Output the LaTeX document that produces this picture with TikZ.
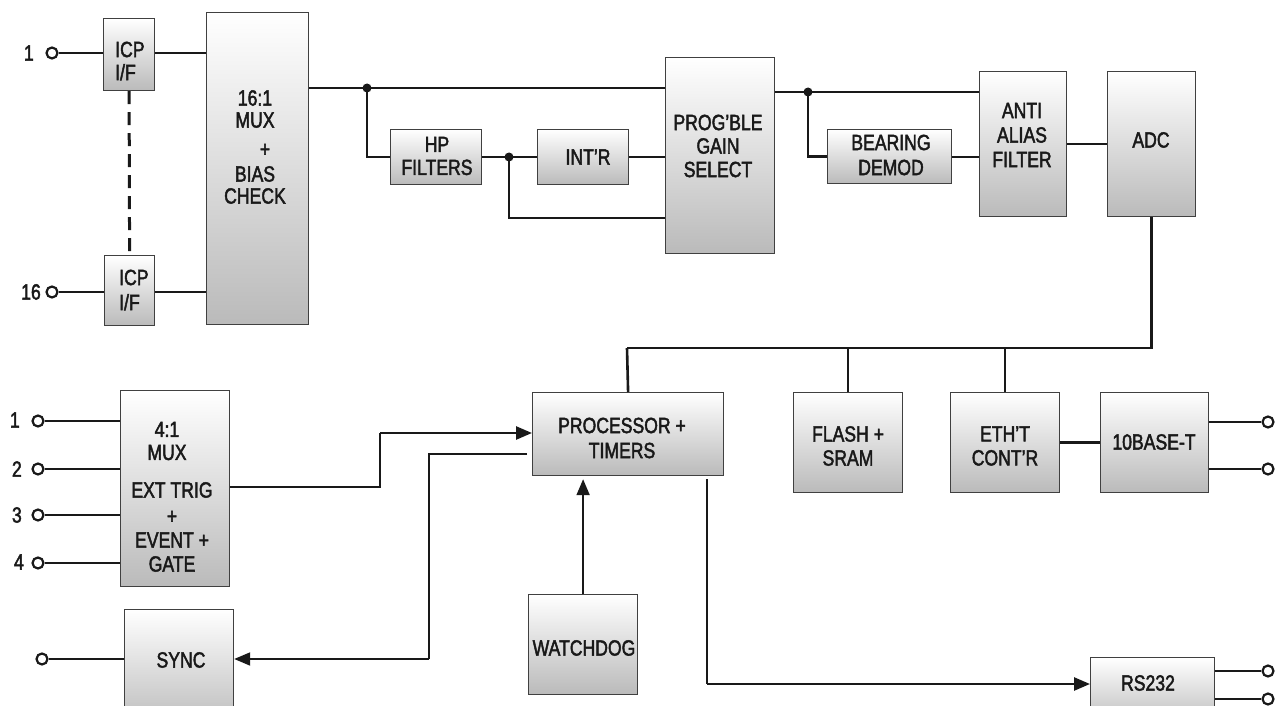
\documentclass[tikz,border=0pt]{standalone}
\usepackage{fontspec}
\setmainfont{Liberation Sans}[FakeStretch=0.80,FakeBold=2]
\usetikzlibrary{arrows.meta}
\begin{document}
\begin{tikzpicture}[x=1pt,y=-1pt,
  box/.style={draw=black!75, line width=1.2pt, top color=white, bottom color=black!27, anchor=north west, inner sep=0pt},
  lbl/.style={font=\fontsize{22}{24}\selectfont, text=black!90, align=center, inner sep=0pt},
  tl/.style={font=\fontsize{22}{24}\selectfont, text=black!90, anchor=east, inner sep=0pt},
  wire/.style={draw=black!90, line width=2.6pt},
  thin/.style={draw=black!90, line width=1.9pt},
  arr/.style={-{Triangle[length=16pt,width=13pt]}},
  term/.style={circle, draw=black!90, line width=2.2pt, fill=white, minimum size=11pt, inner sep=0pt},
  dot/.style={circle, fill=black!90, minimum size=9pt, inner sep=0pt}
]
\useasboundingbox (0,0) rectangle (1283,706);

% ---------- boxes ----------
\node[box, minimum width=51pt, minimum height=72pt] (icp1) at (103,18) {};
\node[box, minimum width=50pt, minimum height=70pt] (icp16) at (104,255) {};
\node[box, minimum width=102pt, minimum height=312pt] (mux16) at (206,12) {};
\node[box, minimum width=91pt, minimum height=55pt] (hp) at (390,129) {};
\node[box, minimum width=91pt, minimum height=55pt] (intr) at (537,129) {};
\node[box, minimum width=109pt, minimum height=196pt] (pgs) at (665,57) {};
\node[box, minimum width=124pt, minimum height=54pt] (bd) at (827,129) {};
\node[box, minimum width=87pt, minimum height=145pt] (aaf) at (979,71) {};
\node[box, minimum width=88pt, minimum height=145pt] (adc) at (1107,71) {};
\node[box, minimum width=191pt, minimum height=83pt] (proc) at (532,392) {};
\node[box, minimum width=109pt, minimum height=100pt] (flash) at (793,392) {};
\node[box, minimum width=109pt, minimum height=100pt] (eth) at (950,392) {};
\node[box, minimum width=108pt, minimum height=100pt] (tenb) at (1100,392) {};
\node[box, minimum width=109pt, minimum height=196pt] (mux4) at (120,390) {};
\node[box, minimum width=109pt, minimum height=120pt] (sync) at (124,609) {};
\node[box, minimum width=109pt, minimum height=100pt] (wd) at (528,594) {};
\node[box, minimum width=124pt, minimum height=70pt] (rs) at (1090,657) {};

% ---------- labels ----------
\node[lbl, align=left, anchor=west, font=\fontsize{22}{23}\selectfont] (icp1t) at (115,61) {ICP\\I/F};
\node[lbl, align=left, anchor=west, font=\fontsize{22}{25}\selectfont] (icp16t) at (119,290) {ICP\\I/F};
\node[lbl, font=\fontsize{22}{22}\selectfont] (mux16t) at (255,147) {16:1\\MUX\\[7pt]\hspace*{20pt}+\\[3pt]BIAS\\CHECK};
\node[lbl, font=\fontsize{22}{23}\selectfont] (hpt) at (437,156) {HP\\FILTERS};
\node[lbl] (intrt) at (588,157) {INT’R};
\node[lbl, font=\fontsize{22}{23.5}\selectfont] (pgst) at (718,146) {PROG’BLE\\GAIN\\SELECT};
\node[lbl, font=\fontsize{22}{25}\selectfont] (bdt) at (891,155) {BEARING\\DEMOD};
\node[lbl, font=\fontsize{22}{24.5}\selectfont] (aaft) at (1022,135) {ANTI\\ALIAS\\FILTER};
\node[lbl] (adct) at (1151,140) {ADC};
\node[lbl, font=\fontsize{22}{25}\selectfont] (proct) at (622,438) {PROCESSOR +\\TIMERS};
\node[lbl] (flasht) at (848,446) {FLASH +\\SRAM};
\node[lbl] (etht) at (1005,446) {ETH’T\\CONT’R};
\node[lbl] (tenbt) at (1154,442) {10BASE-T};
\node[lbl, font=\fontsize{22}{23}\selectfont] (mux4a) at (167,441) {4:1\\MUX};
\node[lbl, font=\fontsize{22}{24}\selectfont] (mux4b) at (172,527) {EXT TRIG\\[2pt]+\\EVENT +\\GATE};
\node[lbl] (synct) at (181,660) {SYNC};
\node[lbl] (wdt) at (584,648) {WATCHDOG};
\node[lbl] (rst) at (1148,683) {RS232};

% ---------- terminals ----------
\node[term] (t1) at (52,53) {};
\node[term] (t16) at (52,292) {};
\node[tl] (t1l) at (34,53) {1};
\node[tl] (t16l) at (41,292) {16};
\node[term] (ti1) at (38,421) {};
\node[term] (ti2) at (38,469) {};
\node[term] (ti3) at (38,515) {};
\node[term] (ti4) at (38,563) {};
\node[tl] (ti1l) at (20,420) {1};
\node[tl] (ti2l) at (22,469) {2};
\node[tl] (ti3l) at (22,515) {3};
\node[tl] (ti4l) at (24,562) {4};
\node[term] (ts) at (42,659) {};
\node[term] (to1) at (1268,422) {};
\node[term] (to2) at (1268,469) {};
\node[term] (to3) at (1268,671) {};
\node[term] (to4) at (1268,699) {};

% ---------- coordinates ----------
\coordinate (fb) at (509,218);
\coordinate (busL) at (627,348);
\coordinate (k0) at (380,487);
\coordinate (k1) at (380,433);
\coordinate (k2) at (429,454);
\coordinate (k3) at (429,659);
\coordinate (k4) at (707,684);

% ---------- junction dots ----------
\node[dot] (j1) at (367,88) {};
\node[dot] (j2) at (509,157) {};
\node[dot] (j3) at (808,92) {};

% ---------- wires: input section ----------
\draw[wire] (t1) -- (t1 -| icp1.west);
\draw[wire] (t16) -- (t16 -| icp16.west);
\draw[wire] (icp1.east |- t1) -- (mux16.west |- t1);
\draw[wire] (icp16.east |- t16) -- (mux16.west |- t16);
\draw[wire, line width=3pt, dash pattern=on 13pt off 8pt] (icp1.south) -- (icp16.north);

\draw[wire] (mux16.east |- j1) -- (pgs.west |- j1);
\draw[wire] (j1.center) -- (j1 |- j2) -- (hp.west |- j2);
\draw[wire] (hp.east |- j2) -- (intr.west |- j2);
\draw[wire] (intr.east |- j2) -- (pgs.west |- j2);
\draw[thin] (j2.center) -- (fb) -- (pgs.west |- fb);

\draw[wire] (pgs.east |- j3) -- (aaf.west |- j3);
\draw[wire] (j3.center) -- (j3 |- bd.west) -- (bd.west);
\draw[thin] (bd.east) -- (aaf.west |- bd.east);
\draw[wire] (aaf.east |- adc.west) -- (adc.west);

% ---------- bus ----------
\draw[wire] (adc.south) -- (adc.south |- busL) -- (busL);
\draw[wire] (busL) -- (proc.north);
\draw[wire] (flash.north |- busL) -- (flash.north);
\draw[wire] (eth.north |- busL) -- (eth.north);
\draw[wire] (eth.east) -- (tenb.west);
\draw[wire] (to1 -| tenb.east) -- (to1);
\draw[wire] (to2 -| tenb.east) -- (to2);

% ---------- lower-left ----------
\draw[wire] (ti1) -- (ti1 -| mux4.west);
\draw[wire] (ti2) -- (ti2 -| mux4.west);
\draw[wire] (ti3) -- (ti3 -| mux4.west);
\draw[wire] (ti4) -- (ti4 -| mux4.west);
\draw[thin] (k0 -| mux4.east) -- (k0) -- (k1);
\draw[wire, arr] (k1) -- (k1 -| proc.west);
\draw[wire] ([xshift=-5pt]k2 -| proc.west) -- (k2) -- (k3);
\draw[thin, arr] (k3) -- (k3 -| sync.east);
\draw[wire] (ts) -- (ts -| sync.west);

\draw[thin, arr, shorten >=3pt] (wd.north) -- (wd.north |- proc.south);
\draw[thin, shorten <=3pt] (proc.south -| k4) -- (k4);
\draw[wire, arr] (k4) -- (k4 -| rs.west);
\draw[wire] (to3 -| rs.east) -- (to3);
\draw[wire] (to4 -| rs.east) -- (to4);
\end{tikzpicture}
\end{document}
